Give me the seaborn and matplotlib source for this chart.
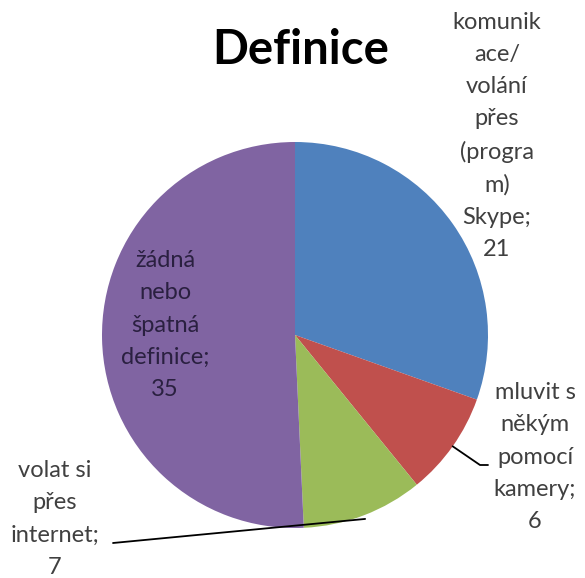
import numpy as np
import matplotlib
matplotlib.use("Agg")
import matplotlib.pyplot as plt
import seaborn as sns

categories = ["komunik\nace/\nvolání\npřes\n(progra\nm)\nSkype", "mluvit s\nněkým\npomocí\nkamery",
              "volat si\npřes\ninternet", "žádná\nnebo\nšpatná\ndefinice"]
values = [21, 6, 7, 35]
colors = ["#4F81BD", "#C0504D", "#9BBB59", "#8064A2"]
title = "Definice"

sns.set_theme(style="white")
plt.rcParams['font.family'] = ['Lato', 'DejaVu Sans']

W, H = 585, 578
cx, cy, R = 295, 335, 193
fig = plt.figure(figsize=(W / 100, H / 100), dpi=100)
ax = fig.add_axes([0, 0, 1, 1])

wedges, _ = ax.pie(values, colors=sns.color_palette(colors), startangle=90, counterclock=False,
                   radius=1.0, center=(0, 0), wedgeprops=dict(linewidth=0))
ax.set_xlim(-cx / R, (W - cx) / R)
ax.set_ylim(-(H - cy) / R, cy / R)
ax.set_aspect("equal")
ax.axis("off")


def p2d(px, py):
    return (px - cx) / R, (cy - py) / R


def mid(w, r):
    a = np.deg2rad((w.theta1 + w.theta2) / 2)
    return r * np.cos(a), r * np.sin(a)


ax.text(*p2d(301, 50), title, ha="center", va="center", fontsize=34, fontweight="bold", color="black")

lab_pos = [(497, 136), (535, 457), (55, 519), (165, 325)]
fs = 17
for i, (c, v) in enumerate(zip(categories, values)):
    ax.text(*p2d(*lab_pos[i]), f"{c};\n{v}", ha="center", va="center", fontsize=fs,
            linespacing=1.65, color="#404040" if i != 3 else "#2a2040")

# leader lines
x0, y0 = mid(wedges[1], 1.0)
x1, y1 = p2d(480, 465)
x2, y2 = p2d(488, 465)
ax.plot([x0, x1, x2], [y0, y1, y2], color="black", lw=1.3)
x0, y0 = mid(wedges[2], 1.02)
x1, y1 = p2d(113, 543)
ax.plot([x0, x1], [y0, y1], color="black", lw=1.3)

fig.savefig("out.png", dpi=100)
